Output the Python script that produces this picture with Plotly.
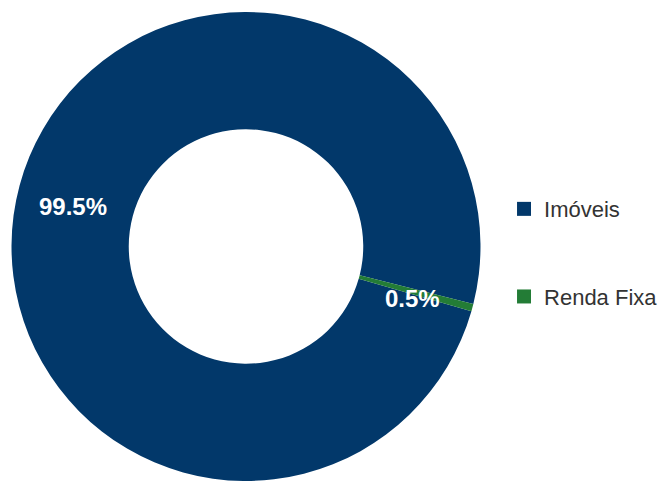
import math
import plotly.graph_objects as go

labels = ["Imóveis", "Renda Fixa"]
values = [99.5, 0.5]
colors = ["#02386A", "#237C36"]

ROTATION = 106
HOLE = 0.5
DOMAIN_X = [0, 0.7223]
W, H = 659, 475
M = dict(l=0, r=0, t=4, b=2)

fig = go.Figure()
fig.add_trace(go.Pie(
    labels=labels,
    values=values,
    hole=HOLE,
    sort=False,
    direction="clockwise",
    rotation=ROTATION,
    marker=dict(colors=colors, line=dict(width=0)),
    textinfo="none",
    showlegend=False,
    hoverinfo="label+percent",
    domain=dict(x=DOMAIN_X, y=[0, 1]),
))

# percentage labels placed at the middle of each slice on the ring
pw = W - M["l"] - M["r"]
ph = H - M["t"] - M["b"]
radius = min((DOMAIN_X[1] - DOMAIN_X[0]) * pw, ph) / 2
rmid = radius * (1 + HOLE) / 2
cx = (DOMAIN_X[0] + DOMAIN_X[1]) / 2
cy = 0.5
total = sum(values)
start = ROTATION
for lab, v in zip(labels, values):
    span = v / total * 360
    mid = start + span / 2
    start += span
    a = math.radians(mid)
    dx = rmid * math.sin(a)
    dy = rmid * math.cos(a)
    fig.add_annotation(
        x=cx + dx / pw, y=cy + dy / ph, xref="paper", yref="paper",
        xanchor="center", yanchor="middle",
        text=f"{v / total * 100:.1f}%", showarrow=False, yshift=-6, xshift=-3,
        font=dict(family="Liberation Sans", size=24, color="white", weight="bold"),
    )

for lab, col in zip(labels, colors):
    fig.add_trace(go.Scatter(
        x=[None], y=[None], mode="markers", name=lab, legendgroup=lab,
        marker=dict(symbol="square", size=14, color=col),
        showlegend=True,
    ))

fig.update_layout(
    width=W, height=H,
    margin=M,
    paper_bgcolor="white", plot_bgcolor="white",
    xaxis=dict(visible=False), yaxis=dict(visible=False),
    legend=dict(
        x=0.7527, xanchor="left", y=0.486, yanchor="middle",
        font=dict(family="Liberation Sans", size=22, color="#333333"),
        tracegroupgap=56, traceorder="grouped",
        bgcolor="rgba(0,0,0,0)",
    ),
)

fig.write_html("out.html")
